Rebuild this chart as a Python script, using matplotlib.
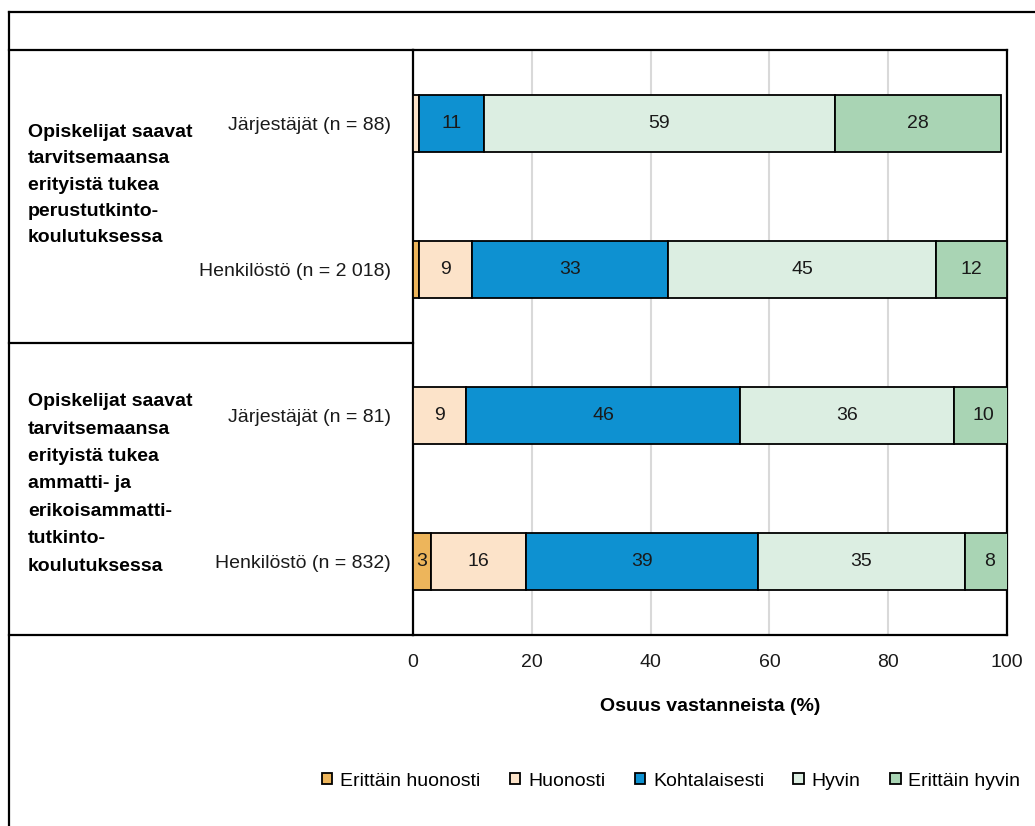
import matplotlib
matplotlib.use("Agg")
import matplotlib.pyplot as plt
from matplotlib.lines import Line2D
import numpy as np

plt.rcParams['font.family'] = ['Liberation Sans', 'DejaVu Sans']

# vastausluokat ja värit
categories = ['Erittäin huonosti', 'Huonosti', 'Kohtalaisesti', 'Hyvin', 'Erittäin hyvin']
colors = ['#EDB55B', '#FCE3C9', '#0E91D1', '#DCEEE2', '#A9D4B4']

# vastaajaryhmät ylhäältä alas
groups = ['Järjestäjät (n = 88)', 'Henkilöstö (n = 2 018)',
          'Järjestäjät (n = 81)', 'Henkilöstö (n = 832)']

# osuudet (%) luokittain
erittain_huonosti = [0, 1, 0, 3]
huonosti = [1, 9, 9, 16]
kohtalaisesti = [11, 33, 46, 39]
hyvin = [59, 45, 36, 35]
erittain_hyvin = [28, 12, 10, 8]

statements = [
    'Opiskelijat saavat\ntarvitsemaansa\nerityistä tukea\nperustutkinto-\nkoulutuksessa',
    'Opiskelijat saavat\ntarvitsemaansa\nerityistä tukea\nammatti- ja\nerikoisammatti-\ntutkinto-\nkoulutuksessa',
]

W, H = 1035, 826
fs = 14
fig = plt.figure(figsize=(W / 100, H / 100), dpi=100)


def fx(px):
    return px / W


def fy(py):
    return 1 - py / H


ax = fig.add_axes([fx(413), fy(635), fx(1007) - fx(413), fy(50) - fy(635)])

y = np.arange(len(groups))[::-1]
series = [erittain_huonosti, huonosti, kohtalaisesti, hyvin, erittain_hyvin]
left = np.zeros(len(groups))
for name, vals, col in zip(categories, series, colors):
    vals = np.array(vals, dtype=float)
    bars = ax.barh(y, vals, left=left, height=0.39, color=col,
                   edgecolor='black', linewidth=1.3, label=name, zorder=3)
    for b, v in zip(bars, vals):
        if v >= 2:
            ax.text(b.get_x() + b.get_width() / 2, b.get_y() + b.get_height() / 2,
                    f'{v:.0f}', ha='center', va='center', fontsize=fs,
                    color='#1a1a1a', zorder=4)
    left += vals

ax.set_xlim(0, 100)
ax.set_ylim(-0.5, len(groups) - 0.5)
ax.set_xticks([0, 20, 40, 60, 80, 100])
ax.set_yticks(y)
ax.set_yticklabels(groups)
ax.tick_params(axis='both', length=0, labelsize=fs, colors='#1a1a1a')
ax.tick_params(axis='y', pad=16)
ax.tick_params(axis='x', pad=14)
ax.grid(axis='x', color='#D9D9D9', linewidth=1.5, zorder=0)
for s in ax.spines.values():
    s.set_linewidth(1.6)
    s.set_color('black')
ax.set_xlabel('Osuus vastanneista (%)', fontsize=14, fontweight='bold', labelpad=19)

# taulukon viivat vasemmalla ja ulkokehys
lw = 1.6
frame = [
    ((9, 1035), (12, 12)),
    ((9, 9), (12, 826)),
    ((9, 413), (50, 50)),
    ((9, 413), (343, 343)),
    ((9, 413), (635, 635)),
]
for xs, ys in frame:
    fig.add_artist(Line2D([fx(xs[0]), fx(xs[1])], [fy(ys[0]), fy(ys[1])],
                          color='black', linewidth=lw, transform=fig.transFigure))

fig.text(fx(28), fy(185), statements[0], fontsize=14, fontweight='bold',
         ha='left', va='center', linespacing=1.72)
fig.text(fx(28), fy(484), statements[1], fontsize=14, fontweight='bold',
         ha='left', va='center', linespacing=1.8)

leg = fig.legend(loc='center', bbox_to_anchor=(fx(671), fy(781)), ncol=5,
                 frameon=False, fontsize=fs, handlelength=0.55, handleheight=0.55,
                 handletextpad=0.4, columnspacing=1.5)

fig.savefig('out.png', dpi=100)
